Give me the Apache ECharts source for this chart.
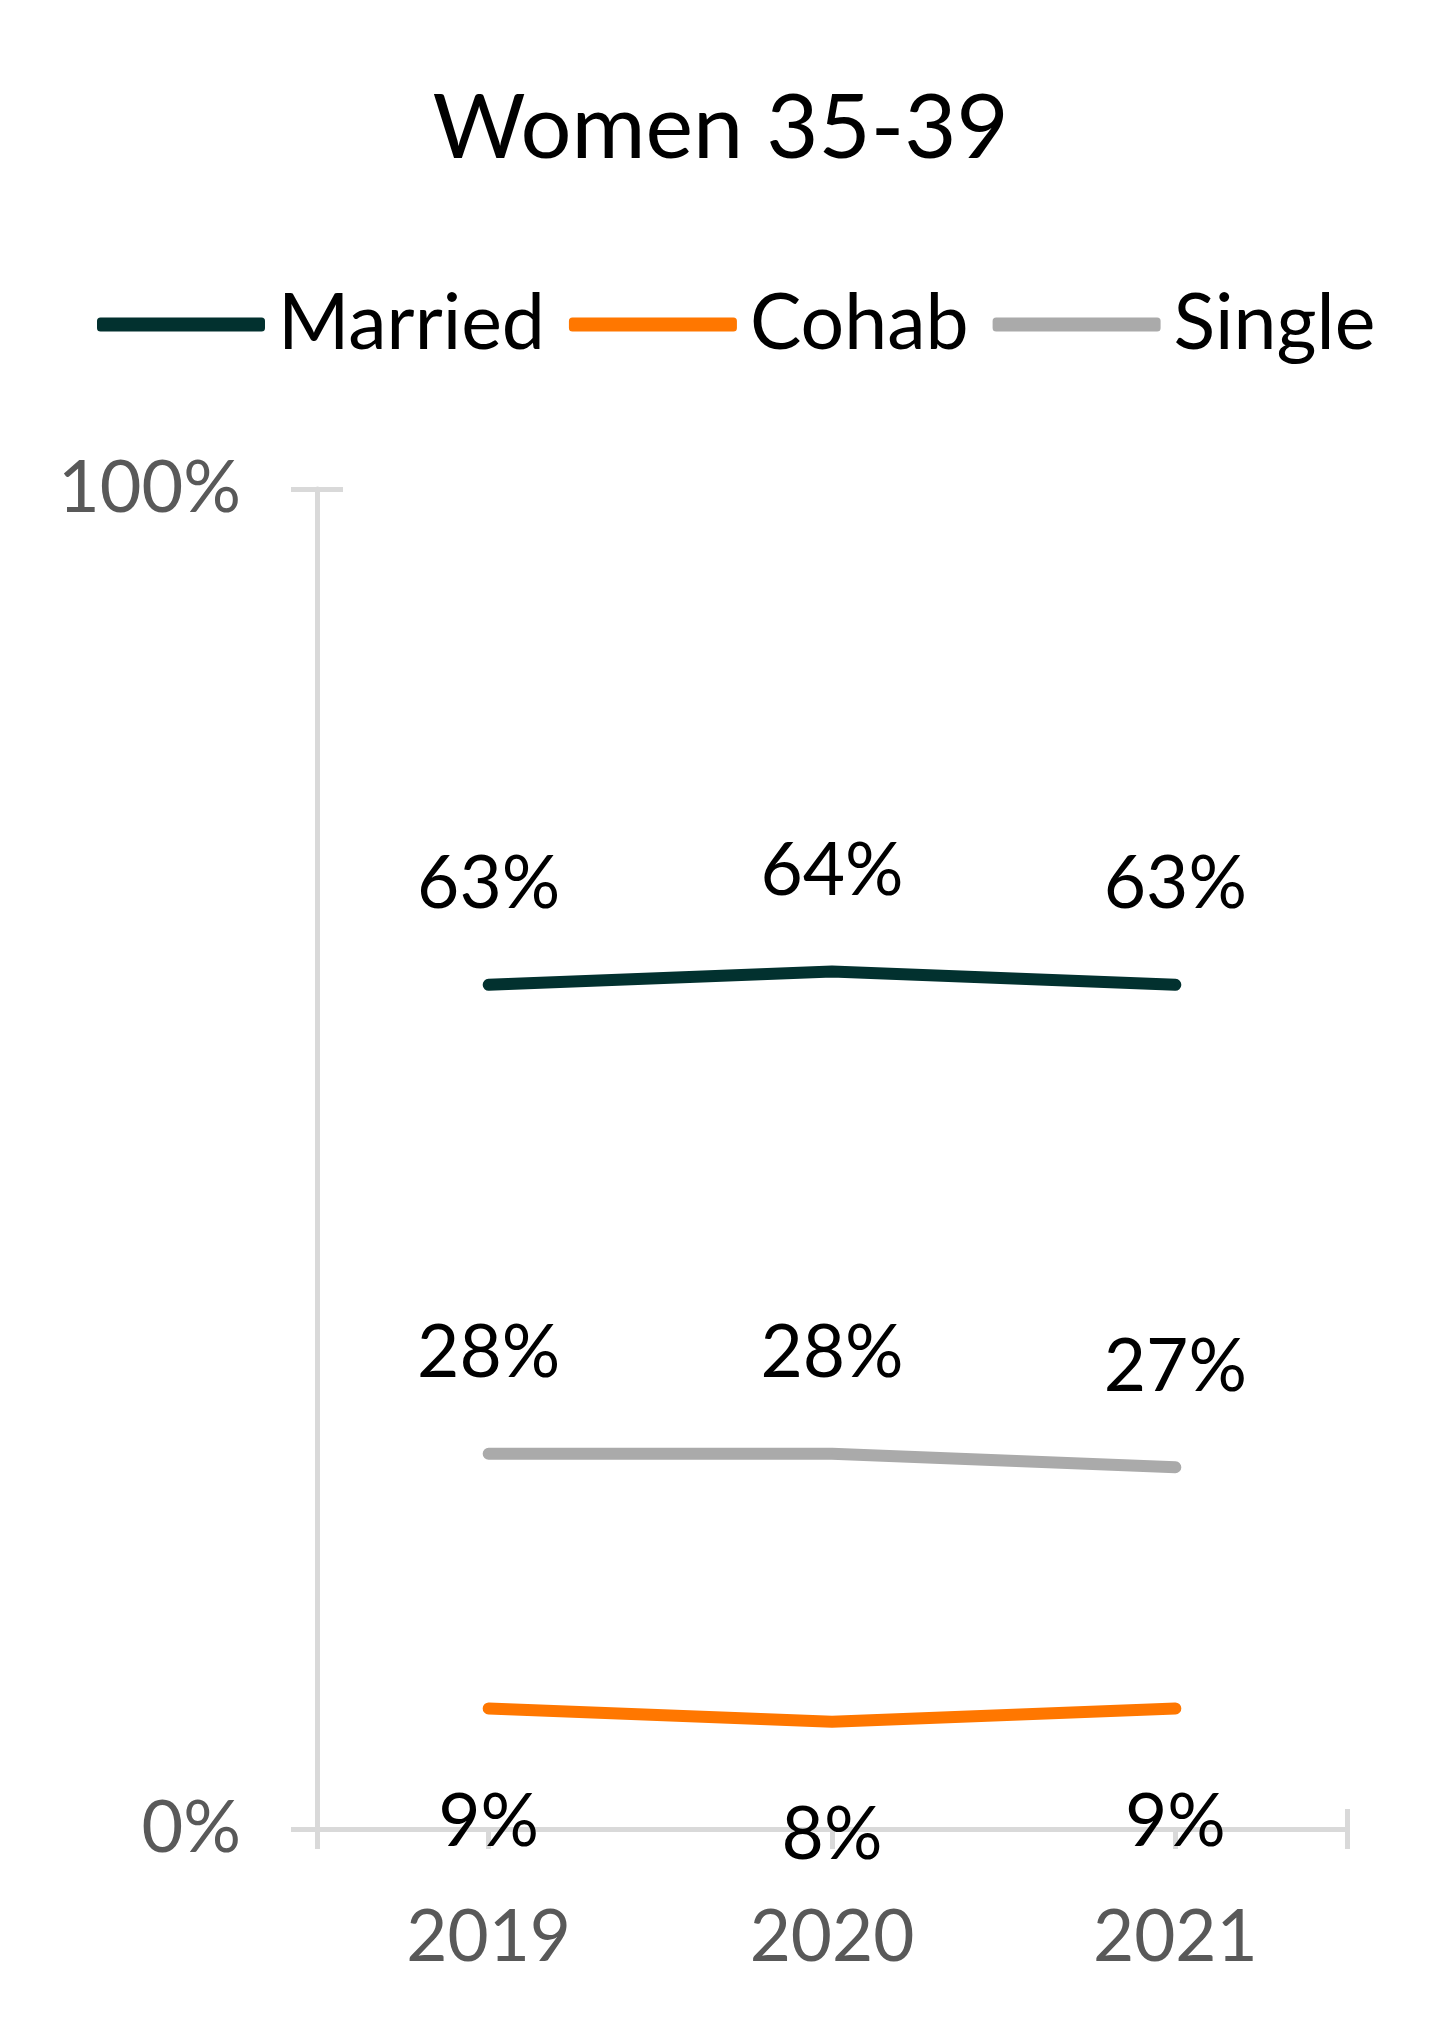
<!DOCTYPE html>
<html>
<head>
<meta charset="utf-8">
<script src="https://cdn.jsdelivr.net/npm/echarts@6/dist/echarts.min.js"></script>
<style>
html,body{margin:0;padding:0;background:#fff;}
#chart{width:1441px;height:2040px;}
</style>
</head>
<body>
<div id="chart"></div>
<script>
const titleText = 'Women 35-39';
const years = ['2019', '2020', '2021'];
const married = [63, 64, 63];
const cohab = [9, 8, 9];
const single = [28, 28, 27];
const yTicks = [0, 100];

const FONT = 'Lato, "Open Sans", sans-serif';
const chart = echarts.init(document.getElementById('chart'));

function lineSeries(name, data, color, pos, dist) {
  return {
    name: name,
    type: 'line',
    data: data,
    xAxisIndex: 0,
    yAxisIndex: 0,
    symbol: 'circle',
    symbolSize: 1,
    showSymbol: true,
    itemStyle: { color: color },
    lineStyle: { color: color, width: 12, cap: 'round', join: 'round' },
    label: {
      show: true,
      position: pos,
      distance: dist,
      formatter: p => p.value + '%',
      fontFamily: FONT,
      fontSize: 73,
      color: '#000'
    },
    emphasis: { disabled: true },
    animation: false
  };
}

chart.setOption({
  backgroundColor: '#fff',
  animation: false,
  title: {
    text: titleText,
    left: 'center',
    top: 79,
    textStyle: { fontFamily: FONT, fontSize: 90, fontWeight: 'normal', color: '#000' }
  },
  legend: {
    top: 281,
    left: 92,
    itemWidth: 168,
    itemHeight: 14,
    itemGap: 24,
    icon: 'roundRect',
    textStyle: { fontFamily: FONT, fontSize: 77, color: '#000', padding: [0, 0, 0, 8] },
    data: ['Married', 'Cohab', 'Single']
  },
  grid: { left: 317, right: 94, top: 489, bottom: 211, containLabel: false },
  xAxis: [
    {
      type: 'category',
      data: years,
      boundaryGap: true,
      axisLine: { show: true, lineStyle: { color: '#D9D9D9', width: 5 } },
      axisTick: { show: true, alignWithLabel: true, length: 20, lineStyle: { color: '#D9D9D9', width: 5 } },
      axisLabel: { margin: 74, fontFamily: FONT, fontSize: 71, color: '#595959' },
      splitLine: { show: false }
    },
    {
      type: 'value', position: 'bottom', min: 0, max: 3, interval: 3,
      axisLine: { show: false },
      axisTick: { show: true, inside: false, length: 20, lineStyle: { color: '#D9D9D9', width: 5 } },
      axisLabel: { show: false }, splitLine: { show: false }
    },
    {
      type: 'value', position: 'bottom', min: 0, max: 3, interval: 3,
      axisLine: { show: false },
      axisTick: { show: true, inside: true, length: 20, lineStyle: { color: '#D9D9D9', width: 5 } },
      axisLabel: { show: false }, splitLine: { show: false }
    }
  ],
  yAxis: [
    {
      type: 'value',
      min: yTicks[0], max: yTicks[1], interval: yTicks[1] - yTicks[0],
      axisLine: { show: true, lineStyle: { color: '#D9D9D9', width: 5 } },
      axisTick: { show: true, inside: false, length: 26, lineStyle: { color: '#D9D9D9', width: 5 } },
      axisLabel: { margin: 76, fontFamily: FONT, fontSize: 72, color: '#595959', formatter: v => v + '%' },
      splitLine: { show: false }
    },
    {
      type: 'value', position: 'left',
      min: yTicks[0], max: yTicks[1], interval: yTicks[1] - yTicks[0],
      axisLine: { show: false },
      axisTick: { show: true, inside: true, length: 26, lineStyle: { color: '#D9D9D9', width: 5 } },
      axisLabel: { show: false }, splitLine: { show: false }
    }
  ],
  series: [
    lineSeries('Married', married, '#02312F', 'top', 63),
    lineSeries('Cohab', cohab, '#FF7700', 'bottom', 77),
    lineSeries('Single', single, '#AAAAAA', 'top', 63)
  ]
});
</script>
</body>
</html>
